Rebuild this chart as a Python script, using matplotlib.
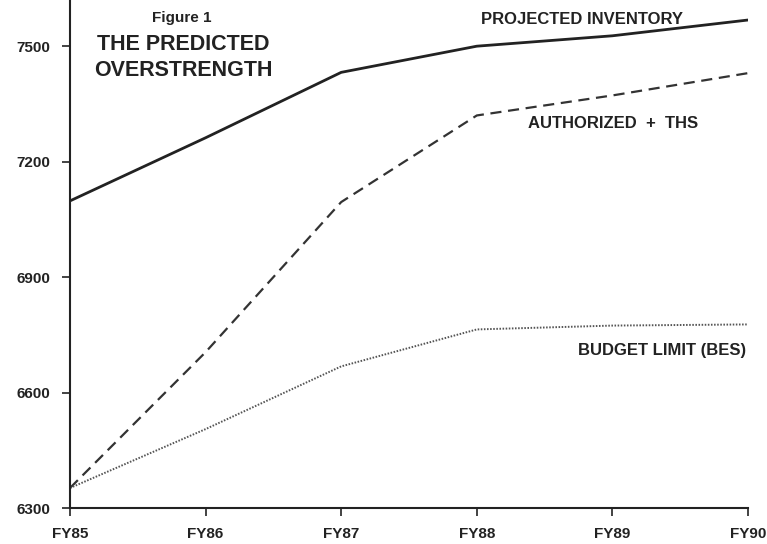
import matplotlib
matplotlib.use("Agg")
import matplotlib.pyplot as plt

years = ["FY85", "FY86", "FY87", "FY88", "FY89", "FY90"]
projected_inventory = [7098, 7262, 7432, 7500, 7527, 7568]
authorized_ths = [6352, 6705, 7095, 7320, 7372, 7430]
budget_limit = [6352, 6505, 6668, 6764, 6774, 6777]
yticks = [6300, 6600, 6900, 7200, 7500]

plt.rcParams['font.family'] = ['Liberation Sans', 'DejaVu Sans']
ink = "#222222"

fig = plt.figure(figsize=(7.67, 5.44), dpi=100)
ax = fig.add_axes([70/767, 36/544, (748-70)/767, 508/544])

x = list(range(len(years)))
ax.plot(x, projected_inventory, color=ink, lw=2.0, solid_capstyle='round')
ax.plot(x, authorized_ths, color="#333333", lw=1.6, linestyle=(0, (5, 3.0)))
ax.plot(x, budget_limit, color="#555555", lw=1.4, linestyle=(0, (0.8, 0.8)))

ax.set_xlim(0, 5)
ax.set_ylim(6300, 7620)
ax.set_yticks(yticks)
ax.set_yticklabels([str(v) for v in yticks], fontsize=11, fontweight='bold', color=ink)
ax.set_xticks(x)
ax.set_xticklabels(years, fontsize=11, fontweight='bold', color=ink)
ax.tick_params(axis='y', direction='out', length=6, width=1.2, colors=ink, pad=8)
ax.tick_params(axis='x', direction='out', length=6, width=1.2, colors=ink, pad=8)
for s in ['top', 'right']:
    ax.spines[s].set_visible(False)
for s in ['left', 'bottom']:
    ax.spines[s].set_color(ink)
    ax.spines[s].set_linewidth(1.5)

# titles
fig.text(182/767, 1 - 18/544, "Figure 1", ha='center', va='center', fontsize=11,
         fontweight='bold', color=ink)
fig.text(183/767, 1 - 44/544, "THE PREDICTED", ha='center', va='center', fontsize=15.5,
         fontweight='bold', color=ink)
fig.text(183/767, 1 - 70/544, "OVERSTRENGTH", ha='center', va='center', fontsize=15.5,
         fontweight='bold', color=ink)

# series labels
fig.text(582/767, 1 - 19/544, "PROJECTED INVENTORY", ha='center', va='center',
         fontsize=12, fontweight='bold', color=ink)
fig.text(613/767, 1 - 123/544, "AUTHORIZED  +  THS", ha='center', va='center',
         fontsize=12, fontweight='bold', color=ink)
fig.text(662/767, 1 - 351/544, "BUDGET LIMIT (BES)", ha='center', va='center',
         fontsize=12, fontweight='bold', color=ink)

fig.savefig("out.png", dpi=100, facecolor='white')
